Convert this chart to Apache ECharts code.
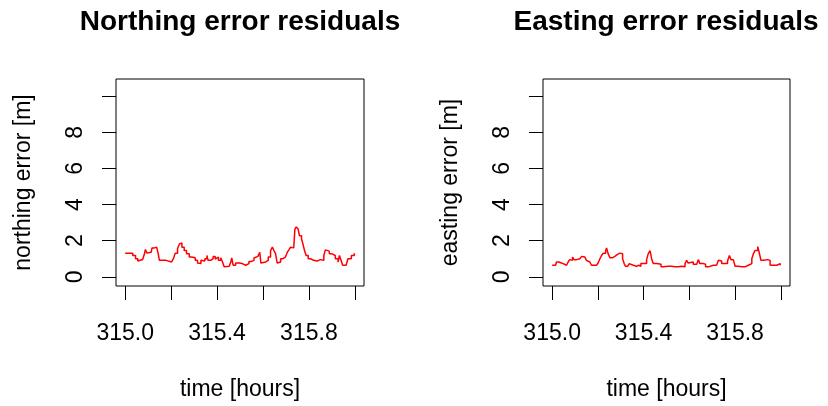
<!DOCTYPE html>
<html>
<head>
<meta charset="utf-8">
<script src="https://cdn.jsdelivr.net/npm/echarts@6/dist/echarts.min.js"></script>
<style>
html,body{margin:0;padding:0;background:#fff;}
#c{width:828px;height:406px;}
</style>
</head>
<body>
<div id="c"></div>
<script>
// ---- data ----
var northTime = [315.000,315.022,315.033,315.045,315.055,315.062,315.076,315.084,315.088,315.095,315.103,315.113,315.117,315.127,315.137,315.144,315.149,315.156,315.178,315.202,315.210,315.218,315.228,315.236,315.240,315.247,315.257,315.267,315.279,315.289,315.296,315.305,315.315,315.322,315.330,315.337,315.347,315.356,315.361,315.373,315.383,315.392,315.398,315.406,315.416,315.424,315.431,315.438,315.453,315.460,315.464,315.470,315.481,315.496,315.510,315.518,315.525,315.539,315.551,315.561,315.568,315.578,315.586,315.591,315.597,315.612,315.623,315.633,315.641,315.648,315.655,315.662,315.669,315.677,315.687,315.698,315.706,315.713,315.720,315.727,315.734,315.739,315.745,315.753,315.759,315.768,315.774,315.781,315.788,315.797,315.807,315.821,315.836,315.850,315.865,315.872,315.879,315.889,315.901,315.915,315.927,315.933,315.941,315.947,315.962,315.970,315.985,315.998];
var northErr  = [1.31,1.31,1.18,1.00,0.87,0.96,0.98,1.27,1.51,1.31,1.36,1.33,1.60,1.64,1.60,1.27,0.91,0.91,0.82,0.82,1.00,1.31,1.55,1.82,1.87,1.64,1.45,1.27,1.09,1.00,1.05,0.91,0.76,0.73,0.91,0.87,1.00,1.18,0.91,1.00,1.13,0.98,1.09,0.91,1.05,0.82,0.55,0.58,0.60,0.82,1.04,0.64,0.76,0.73,0.80,0.64,0.73,0.85,0.91,1.04,1.13,1.24,1.36,0.76,0.82,0.91,1.09,1.45,1.64,1.45,1.27,0.76,0.82,1.00,1.09,1.18,1.36,1.49,1.64,1.60,1.64,2.64,2.76,2.64,2.27,2.09,1.82,1.45,1.18,1.00,0.91,0.87,0.95,0.91,1.18,1.49,1.42,1.27,1.18,1.00,0.82,1.18,0.87,0.64,0.65,1.00,1.18,1.31];

var eastTime = [315.000,315.015,315.019,315.029,315.038,315.048,315.056,315.063,315.070,315.077,315.085,315.089,315.096,315.107,315.114,315.121,315.129,315.136,315.143,315.150,315.158,315.165,315.172,315.194,315.201,315.209,315.216,315.223,315.234,315.238,315.245,315.253,315.263,315.274,315.286,315.296,315.304,315.308,315.315,315.321,315.330,315.337,315.344,315.355,315.369,315.379,315.388,315.398,315.413,315.420,315.428,315.435,315.442,315.457,315.464,315.476,315.486,315.508,315.522,315.537,315.552,315.566,315.581,315.588,315.595,315.603,315.617,315.632,315.639,315.646,315.661,315.671,315.683,315.705,315.719,315.727,315.734,315.741,315.756,315.767,315.775,315.782,315.792,315.800,315.814,315.829,315.843,315.858,315.873,315.880,315.887,315.899,315.905,315.913,315.924,315.931,315.943,315.953,315.967,315.982,315.997];
var eastErr  = [0.64,0.64,0.82,0.78,0.73,0.69,0.64,0.73,0.82,0.95,0.91,1.09,0.95,0.95,1.00,1.05,1.13,1.09,1.00,0.91,0.82,0.73,0.64,0.64,0.76,1.00,1.18,1.31,1.45,1.60,1.27,1.05,1.13,1.24,1.31,1.36,1.27,1.00,0.73,0.58,0.55,0.73,0.64,0.58,0.64,0.58,0.73,0.73,0.95,1.27,1.45,1.00,0.73,0.76,0.69,0.55,0.58,0.58,0.55,0.55,0.58,0.55,0.73,0.91,0.76,0.82,0.69,0.73,0.95,0.73,0.69,0.55,0.64,0.64,0.69,0.91,0.87,0.73,0.73,0.87,1.18,0.95,0.91,0.58,0.55,0.55,0.64,0.73,1.00,1.27,1.45,1.67,1.36,0.91,0.87,0.95,0.91,0.64,0.64,0.73,0.64];

var xTicks  = [315.0,315.2,315.4,315.6,315.8,316.0];
var xLabels = [315.0,315.4,315.8];
var yTicks  = [0,2,4,6,8,10];
var yLabels = [0,2,4,6,8];

var titles = ['Northing error residuals','Easting error residuals'];
var yNames = ['northing error [m]','easting error [m]'];
var xName = 'time [hours]';

// ---- chart ----
var FONT = "'Liberation Sans', Arial, sans-serif";
var chart = echarts.init(document.getElementById('c'), null, {renderer:'canvas'});

function pair(t, v){ return t.map(function(x,i){ return [x, v[i]]; }); }

var grids = [
  {left:116, top:79, width:248, height:210},
  {left:543, top:79, width:247, height:210}
];

function xAxis(i){
  return {
    type:'value', gridIndex:i, min:314.96, max:316.04,
    name:xName, nameLocation:'middle', nameGap:92,
    nameTextStyle:{fontFamily:FONT, fontSize:23, color:'#000'},
    axisLine:{show:false, onZero:false},
    splitLine:{show:false},
    axisTick:{show:true, length:14, customValues:xTicks, lineStyle:{color:'#000', width:1}},
    axisLabel:{show:true, margin:36, customValues:xLabels, fontFamily:FONT, fontSize:23, color:'#000',
      formatter:function(v){ return Number(v).toFixed(1); }}
  };
}
function yAxis(i){
  return {
    type:'value', gridIndex:i, min:-0.51, max:10.95,
    name:yNames[i], nameLocation:'middle', nameGap:81,
    nameTextStyle:{fontFamily:FONT, fontSize:23, color:'#000'},
    axisLine:{show:false, onZero:false},
    splitLine:{show:false},
    axisTick:{show:true, length:14, customValues:yTicks, lineStyle:{color:'#000', width:1}},
    axisLabel:{show:true, rotate:90, margin:29, customValues:yLabels, fontFamily:FONT, fontSize:23, color:'#000',
      formatter:function(v){ return String(Math.round(v)); }}
  };
}

var option = {
  animation:false,
  backgroundColor:'#fff',
  grid: grids.map(function(g){ return Object.assign({show:true, borderColor:'#000', borderWidth:1, backgroundColor:'transparent'}, g); }),
  xAxis:[xAxis(0), xAxis(1)],
  yAxis:[yAxis(0), yAxis(1)],
  graphic:[
    {type:'text', x:240, y:22, style:{text:titles[0], font:"bold 28px "+FONT, fill:'#000', textAlign:'center', textVerticalAlign:'middle'}},
    {type:'text', x:666, y:22, style:{text:titles[1], font:"bold 28px "+FONT, fill:'#000', textAlign:'center', textVerticalAlign:'middle'}}
  ],
  series:[
    {type:'line', xAxisIndex:0, yAxisIndex:0, data:pair(northTime, northErr), showSymbol:false, symbol:'none', step:'end',
      lineStyle:{color:'#ff0000', width:1.5}},
    {type:'line', xAxisIndex:1, yAxisIndex:1, data:pair(eastTime, eastErr), showSymbol:false, symbol:'none', step:'end',
      lineStyle:{color:'#ff0000', width:1.5}}
  ]
};
chart.setOption(option);
</script>
</body>
</html>
